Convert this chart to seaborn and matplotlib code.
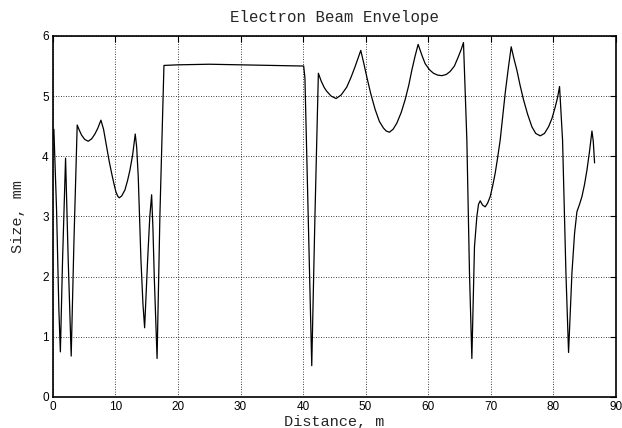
import seaborn as sns
import matplotlib
matplotlib.use('Agg')
import matplotlib.pyplot as plt
import pandas as pd

# envelope
distance = [0.0, 0.16, 0.59, 0.96, 1.2, 1.55, 2.03, 2.45, 2.93, 3.36, 3.89,
            4.2, 4.6, 5.1, 5.65, 6.2, 6.72, 7.2, 7.68,
            8.1, 8.59, 9.0, 9.39, 9.75, 10.08, 10.35, 10.61, 11.0, 11.52, 11.95, 12.32, 12.75, 13.17,
            13.4, 13.65, 14.08, 14.4, 14.67, 15.15, 15.5, 15.79, 16.0, 16.21, 16.66, 17.12, 17.76,
            20.0, 25.0, 30.0, 35.0, 40.1,
            40.3, 40.6, 41.39, 41.9, 42.45, 42.9, 43.4, 43.79, 44.5, 45.28, 46.1, 46.99, 47.7, 48.32, 48.8, 49.23,
            49.7, 50.19, 50.8, 51.52, 52.2, 52.85, 53.3, 53.81, 54.4, 54.99, 55.7, 56.32, 56.9, 57.39, 57.9, 58.4,
            59.0, 59.52, 60.2, 60.85, 61.5, 62.19, 62.9, 63.52, 64.2, 64.85, 65.3, 65.65,
            66.19, 66.61, 66.99, 67.41, 67.79, 68.05, 68.32, 68.7, 69.12,
            69.5, 69.92, 70.3, 70.72, 71.1, 71.52, 71.9, 72.32, 72.8, 73.28,
            73.7, 74.19, 74.7, 75.25, 75.9, 76.59, 77.2, 77.92, 78.6, 79.25, 79.8, 80.32, 80.7, 81.01,
            81.49, 82.03, 82.45, 82.99, 83.41, 83.79, 84.2, 84.59, 85.0, 85.39, 85.8, 86.19, 86.4, 86.61]
size = [4.27, 4.45, 3.11, 1.45, 0.75, 2.28, 3.97, 2.28, 0.68, 2.55, 4.52,
        4.44, 4.35, 4.28, 4.25, 4.29, 4.37, 4.47, 4.60,
        4.45, 4.16, 3.92, 3.72, 3.55, 3.41, 3.34, 3.31, 3.34, 3.44, 3.60, 3.77, 4.02, 4.37,
        4.15, 3.66, 2.28, 1.55, 1.15, 2.28, 3.0, 3.36, 2.8, 2.0, 0.64, 3.05, 5.51,
        5.52, 5.53, 5.52, 5.51, 5.50,
        5.3, 4.0, 0.52, 3.0, 5.38, 5.25, 5.14, 5.08, 5.0, 4.96, 5.02, 5.15, 5.32, 5.49, 5.63, 5.76,
        5.55, 5.32, 5.05, 4.78, 4.58, 4.47, 4.42, 4.40, 4.45, 4.55, 4.73, 4.94, 5.18, 5.43, 5.66, 5.86,
        5.68, 5.54, 5.44, 5.38, 5.35, 5.34, 5.36, 5.41, 5.50, 5.66, 5.78, 5.89,
        4.27, 2.06, 0.64, 2.50, 3.0, 3.2, 3.26, 3.19, 3.16,
        3.22, 3.33, 3.5, 3.72, 3.97, 4.27, 4.64, 5.05, 5.45, 5.82,
        5.63, 5.43, 5.18, 4.94, 4.70, 4.49, 4.38, 4.34, 4.38, 4.49, 4.63, 4.82, 4.98, 5.16,
        4.27, 2.06, 0.74, 2.06, 2.72, 3.08, 3.2, 3.33, 3.53, 3.77, 4.08, 4.42, 4.25, 3.89]

df = pd.DataFrame({'Distance': distance, 'Size': size})

sns.set_style('white')
mono = 'Liberation Mono'
plt.rcParams['font.family'] = ['Liberation Sans', 'DejaVu Sans']

fig = plt.figure(figsize=(6.22, 4.28), dpi=100)
ax = fig.add_axes([0.085, 0.0725, 0.905, 0.8435])
sns.lineplot(data=df, x='Distance', y='Size', color='black', linewidth=0.9, ax=ax)

ax.set_xlim(0, 90)
ax.set_ylim(0, 6)
ax.set_xticks(range(0, 91, 10))
ax.set_yticks(range(0, 7))
ax.grid(True, color='black', linestyle=(0, (1, 2)), linewidth=0.6)
ax.tick_params(direction='in', length=4, width=0.8, top=True, right=True,
               labelsize=8.5, pad=3, colors='black')
for s in ax.spines.values():
    s.set_color('black')
    s.set_linewidth(1.2)

ax.set_title('Electron Beam Envelope', family=mono, fontsize=11.3, pad=10)
ax.set_xlabel('Distance, m', family=mono, fontsize=11, labelpad=1)
ax.set_ylabel('Size, mm', family=mono, fontsize=11, labelpad=12)

fig.savefig('out.png', dpi=100)
